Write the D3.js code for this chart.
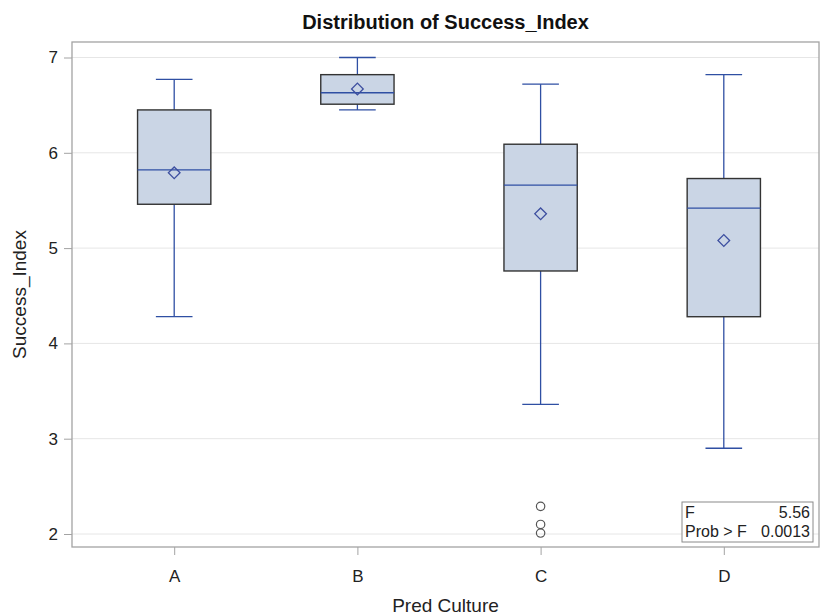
<!DOCTYPE html>
<html>
<head>
<meta charset="utf-8">
<script src="https://cdn.jsdelivr.net/npm/d3@7"></script>
<style>
  html, body { margin: 0; padding: 0; background: #fff; }
  svg { display: block; font-family: "Liberation Sans Narrow", "Arial Narrow", "Liberation Sans", Arial, sans-serif; }
</style>
</head>
<body>
<svg id="chart" width="820" height="616"></svg>
<script>
// ---- data ----
const categories = ["A", "B", "C", "D"];
const whiskerLow  = [4.28, 6.45, 3.36, 2.90];
const q1          = [5.46, 6.51, 4.76, 4.28];
const medians     = [5.82, 6.63, 5.66, 5.42];
const q3          = [6.45, 6.82, 6.09, 5.73];
const whiskerHigh = [6.77, 7.00, 6.72, 6.82];
const means       = [5.79, 6.67, 5.36, 5.08];
const outliers    = [[], [], [2.29, 2.10, 2.01], []];
const yTicks      = [2, 3, 4, 5, 6, 7];
const statLabels  = ["F", "Prob > F"];
const statValues  = ["5.56", "0.0013"];
const titleText   = "Distribution of Success_Index";
const xTitle      = "Pred Culture";
const yTitle      = "Success_Index";

// ---- layout ----
const plot = { left: 72, right: 819, top: 42, bottom: 547 };
const svg = d3.select("#chart");

const x = d3.scalePoint().domain(categories).range([174.2, 723.8]);
const step = x.step();
const y = d3.scaleLinear().domain([2, 7]).range([534, 57.5]);

const boxW = step * 0.4;
const capW = step * 0.2;

// gridlines
svg.append("g").selectAll("line").data(yTicks).join("line")
  .attr("x1", plot.left).attr("x2", plot.right)
  .attr("y1", d => y(d)).attr("y2", d => y(d))
  .attr("stroke", "#e6e6e6").attr("stroke-width", 1);

// frame
svg.append("rect")
  .attr("x", plot.left).attr("y", plot.top)
  .attr("width", plot.right - plot.left).attr("height", plot.bottom - plot.top)
  .attr("fill", "none").attr("stroke", "#a3a3a3").attr("stroke-width", 1.3);

// y axis
const yAxis = d3.axisLeft(y).tickValues(yTicks).tickSize(8).tickPadding(6).tickFormat(d3.format("d"));
const yg = svg.append("g").attr("transform", `translate(${plot.left},0)`).call(yAxis);
yg.select(".domain").remove();
yg.selectAll(".tick line").attr("stroke", "#a3a3a3");
yg.selectAll(".tick text").attr("fill", "#222").attr("font-size", 17);

// x axis
const xAxis = d3.axisBottom(x).tickSize(8).tickPadding(15);
const xg = svg.append("g").attr("transform", `translate(0,${plot.bottom})`).call(xAxis);
xg.select(".domain").remove();
xg.selectAll(".tick line").attr("stroke", "#a3a3a3");
xg.selectAll(".tick text").attr("fill", "#222").attr("font-size", 17);

// boxes
const rows = categories.map((c, i) => ({
  c, lo: whiskerLow[i], q1: q1[i], med: medians[i], q3: q3[i], hi: whiskerHigh[i],
  mean: means[i], out: outliers[i]
}));
const blue = "#2f4fa3";
const g = svg.append("g").selectAll("g").data(rows).join("g");

// whiskers
g.append("line")
  .attr("x1", d => x(d.c)).attr("x2", d => x(d.c))
  .attr("y1", d => y(d.hi)).attr("y2", d => y(d.q3))
  .attr("stroke", blue).attr("stroke-width", 1.3);
g.append("line")
  .attr("x1", d => x(d.c)).attr("x2", d => x(d.c))
  .attr("y1", d => y(d.q1)).attr("y2", d => y(d.lo))
  .attr("stroke", blue).attr("stroke-width", 1.3);
g.append("line")
  .attr("x1", d => x(d.c) - capW / 2).attr("x2", d => x(d.c) + capW / 2)
  .attr("y1", d => y(d.hi)).attr("y2", d => y(d.hi))
  .attr("stroke", blue).attr("stroke-width", 1.3);
g.append("line")
  .attr("x1", d => x(d.c) - capW / 2).attr("x2", d => x(d.c) + capW / 2)
  .attr("y1", d => y(d.lo)).attr("y2", d => y(d.lo))
  .attr("stroke", blue).attr("stroke-width", 1.3);

// box
g.append("rect")
  .attr("x", d => x(d.c) - boxW / 2).attr("width", boxW)
  .attr("y", d => y(d.q3)).attr("height", d => y(d.q1) - y(d.q3))
  .attr("fill", "#cad5e5").attr("stroke", "#333").attr("stroke-width", 1.4);

// median
g.append("line")
  .attr("x1", d => x(d.c) - boxW / 2).attr("x2", d => x(d.c) + boxW / 2)
  .attr("y1", d => y(d.med)).attr("y2", d => y(d.med))
  .attr("stroke", blue).attr("stroke-width", 1.3);

// mean diamond
g.append("path")
  .attr("d", d3.symbol().type(d3.symbolSquare).size(68))
  .attr("transform", d => `translate(${x(d.c)},${y(d.mean)}) rotate(45)`)
  .attr("fill", "none").attr("stroke", "#3d4fa0").attr("stroke-width", 1.3);

// outliers
g.selectAll("circle").data(d => d.out.map(v => ({ c: d.c, v }))).join("circle")
  .attr("cx", d => x(d.c)).attr("cy", d => y(d.v)).attr("r", 4.2)
  .attr("fill", "none").attr("stroke", "#555").attr("stroke-width", 1.2);

// stats inset
const inset = { x: 682, y: 502, w: 131, h: 40 };
svg.append("rect")
  .attr("x", inset.x).attr("y", inset.y).attr("width", inset.w).attr("height", inset.h)
  .attr("fill", "#fff").attr("stroke", "#8a8a8a").attr("stroke-width", 1);
statLabels.forEach((lab, i) => {
  svg.append("text").attr("x", inset.x + 3).attr("y", inset.y + 16 + i * 19)
    .attr("font-size", 16).attr("fill", "#222").text(lab);
  svg.append("text").attr("x", inset.x + inset.w - 3).attr("y", inset.y + 16 + i * 19)
    .attr("font-size", 16).attr("fill", "#222").attr("text-anchor", "end").text(statValues[i]);
});

// titles
svg.append("text").attr("x", (plot.left + plot.right) / 2).attr("y", 29)
  .attr("text-anchor", "middle").attr("font-size", 20).attr("font-weight", "bold")
  .attr("fill", "#111").text(titleText);
svg.append("text").attr("x", (plot.left + plot.right) / 2).attr("y", 612)
  .attr("text-anchor", "middle").attr("font-size", 19).attr("fill", "#222").text(xTitle);
svg.append("text")
  .attr("transform", `translate(26,${(plot.top + plot.bottom) / 2}) rotate(-90)`)
  .attr("text-anchor", "middle").attr("font-size", 19).attr("fill", "#222").text(yTitle);
</script>
</body>
</html>
